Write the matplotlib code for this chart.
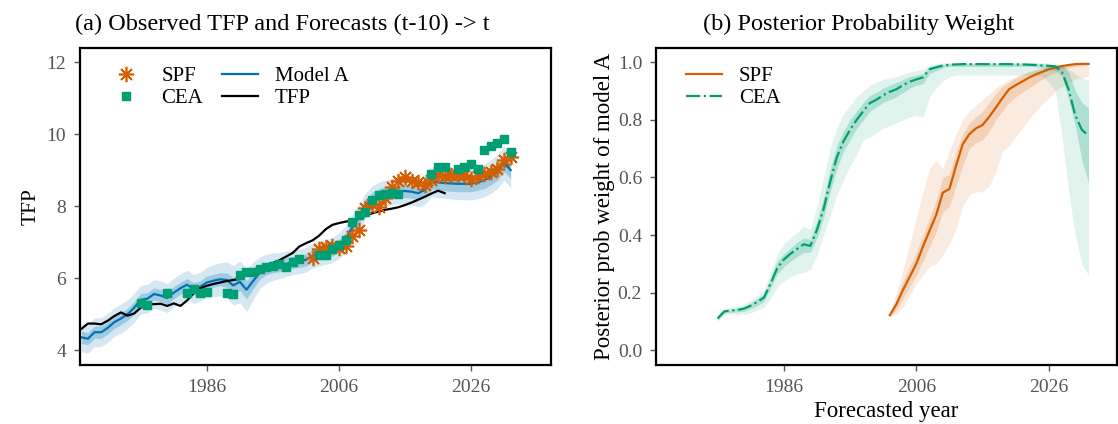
import numpy as np
import matplotlib
matplotlib.use("Agg")
import matplotlib.pyplot as plt

plt.rcParams["font.family"] = ["Liberation Serif", "DejaVu Serif"]
plt.rcParams["font.size"] = 14

# colours (colour-blind palette)
cSPF = "#D55E00"
cCEA = "#009E73"
cMOD = "#0072B2"

# ---- panel (a) data ----
tfpYears = list(range(1967, 2023))
tfp = [4.59, 4.74, 4.74, 4.72, 4.82, 4.95, 5.05, 4.96, 5.02, 5.18,
       5.27, 5.28, 5.29, 5.23, 5.30, 5.23, 5.38, 5.58, 5.72, 5.79,
       5.84, 5.88, 5.92, 5.95, 5.98, 6.14, 6.24, 6.29, 6.33, 6.42,
       6.50, 6.60, 6.70, 6.88, 6.97, 7.05, 7.18, 7.36, 7.48, 7.53,
       7.57, 7.60, 7.66, 7.73, 7.80, 7.85, 7.90, 7.93, 7.97, 8.03,
       8.10, 8.18, 8.26, 8.35, 8.43, 8.36]

modYears = list(range(1967, 2033))
modelA = [4.36, 4.32, 4.50, 4.50, 4.62, 4.78, 4.88, 5.00, 5.18, 5.40,
          5.43, 5.56, 5.52, 5.45, 5.60, 5.72, 5.82, 5.70, 5.76, 5.88,
          5.93, 5.97, 5.95, 5.80, 5.90, 5.68, 5.92, 6.15, 6.26, 6.32,
          6.35, 6.40, 6.44, 6.47, 6.51, 6.62, 6.68, 6.72, 6.78, 6.90,
          7.08, 7.40, 7.68, 8.00, 8.20, 8.30, 8.36, 8.40, 8.42, 8.42,
          8.40, 8.36, 8.45, 8.68, 8.66, 8.64, 8.63, 8.62, 8.62, 8.62,
          8.66, 8.72, 8.82, 8.96, 9.20, 9.00]
# half widths of the two credible bands
modInner = [0.17, 0.17, 0.17, 0.17, 0.17, 0.17, 0.17, 0.17, 0.17, 0.17,
            0.17, 0.17, 0.17, 0.17, 0.17, 0.17, 0.17, 0.17, 0.17, 0.18,
            0.18, 0.18, 0.20, 0.22, 0.24, 0.25, 0.22, 0.18, 0.17, 0.17,
            0.17, 0.17, 0.17, 0.17, 0.17, 0.17, 0.17, 0.17, 0.17, 0.18,
            0.18, 0.18, 0.18, 0.18, 0.18, 0.18, 0.18, 0.18, 0.18, 0.18,
            0.18, 0.18, 0.19, 0.21, 0.21, 0.21, 0.22, 0.22, 0.22, 0.22,
            0.22, 0.23, 0.23, 0.24, 0.24, 0.24]
modOuter = [0.40, 0.40, 0.40, 0.40, 0.40, 0.40, 0.40, 0.40, 0.40, 0.40,
            0.40, 0.40, 0.40, 0.40, 0.40, 0.40, 0.40, 0.40, 0.40, 0.42,
            0.44, 0.46, 0.50, 0.55, 0.58, 0.60, 0.52, 0.44, 0.40, 0.38,
            0.36, 0.35, 0.34, 0.34, 0.34, 0.34, 0.34, 0.34, 0.35, 0.36,
            0.36, 0.36, 0.36, 0.36, 0.36, 0.36, 0.36, 0.36, 0.36, 0.36,
            0.37, 0.38, 0.40, 0.42, 0.42, 0.42, 0.43, 0.44, 0.44, 0.45,
            0.45, 0.46, 0.46, 0.47, 0.48, 0.48]

spfYears = list(range(2002, 2033))
spf = [6.56, 6.82, 6.86, 6.90, 6.85, 6.90, 7.16, 7.34, 7.94, 8.05,
       7.99, 8.22, 8.53, 8.71, 8.80, 8.71, 8.66, 8.60, 8.72, 8.86,
       8.84, 8.86, 8.86, 8.86, 8.74, 8.84, 8.88, 8.94, 9.02, 9.28, 9.37]

ceaYears = [1976, 1977, 1980, 1983, 1984, 1985, 1986, 1989, 1990, 1991,
            1992, 1993, 1994, 1995, 1996, 1997, 1998, 1999, 2000, 2003,
            2004, 2005, 2006, 2007, 2008, 2009, 2010, 2011, 2012, 2013,
            2014, 2015, 2020, 2021, 2022, 2024, 2025, 2026, 2027, 2028,
            2029, 2030, 2031, 2032]
cea = [5.31, 5.26, 5.58, 5.60, 5.69, 5.60, 5.63, 5.60, 5.56, 6.09,
       6.16, 6.18, 6.25, 6.32, 6.33, 6.38, 6.30, 6.46, 6.52, 6.63,
       6.64, 6.82, 6.93, 7.06, 7.55, 7.75, 7.85, 8.18, 8.30, 8.34,
       8.36, 8.33, 8.88, 9.10, 9.10, 9.03, 9.10, 9.16, 9.03, 9.55,
       9.66, 9.75, 9.87, 9.49]

# ---- panel (b) data ----
wCeaYears = list(range(1976, 2033))
wCea = [0.110, 0.135, 0.138, 0.140, 0.145, 0.155, 0.168, 0.183, 0.232, 0.285,
        0.315, 0.335, 0.352, 0.368, 0.362, 0.418, 0.490, 0.585, 0.670, 0.725,
        0.765, 0.800, 0.830, 0.858, 0.870, 0.885, 0.897, 0.906, 0.920, 0.932,
        0.940, 0.947, 0.975, 0.982, 0.988, 0.991, 0.992, 0.993, 0.993, 0.993,
        0.993, 0.993, 0.993, 0.993, 0.993, 0.992, 0.992, 0.991, 0.990, 0.988,
        0.987, 0.985, 0.965, 0.905, 0.815, 0.765, 0.745]
wCeaLo90 = [0.100, 0.125, 0.125, 0.125, 0.125, 0.130, 0.140, 0.150, 0.180, 0.220,
            0.240, 0.255, 0.265, 0.270, 0.280, 0.330, 0.400, 0.470, 0.540, 0.590,
            0.640, 0.680, 0.730, 0.740, 0.755, 0.770, 0.780, 0.790, 0.800, 0.810,
            0.815, 0.810, 0.880, 0.910, 0.935, 0.950, 0.955, 0.955, 0.955, 0.955,
            0.955, 0.955, 0.955, 0.955, 0.955, 0.955, 0.955, 0.955, 0.955, 0.950,
            0.930, 0.900, 0.740, 0.550, 0.400, 0.300, 0.260]
wCeaHi90 = [0.120, 0.145, 0.150, 0.155, 0.160, 0.175, 0.190, 0.210, 0.270, 0.330,
            0.370, 0.390, 0.410, 0.430, 0.420, 0.500, 0.600, 0.700, 0.770, 0.820,
            0.850, 0.880, 0.900, 0.920, 0.930, 0.940, 0.945, 0.950, 0.960, 0.965,
            0.970, 0.975, 0.990, 0.995, 0.997, 0.998, 0.998, 0.998, 0.998, 0.998,
            0.998, 0.998, 0.998, 0.998, 0.998, 0.998, 0.998, 0.998, 0.998, 0.998,
            0.997, 0.995, 0.990, 0.975, 0.960, 0.945, 0.937]
wCeaLo50 = [0.105, 0.130, 0.132, 0.133, 0.135, 0.145, 0.155, 0.170, 0.215, 0.265,
            0.290, 0.310, 0.325, 0.340, 0.340, 0.390, 0.460, 0.550, 0.630, 0.690,
            0.730, 0.770, 0.800, 0.830, 0.845, 0.860, 0.870, 0.880, 0.895, 0.910,
            0.920, 0.925, 0.960, 0.970, 0.980, 0.985, 0.985, 0.985, 0.985, 0.985,
            0.985, 0.985, 0.985, 0.985, 0.985, 0.985, 0.985, 0.985, 0.985, 0.980,
            0.975, 0.970, 0.950, 0.870, 0.780, 0.660, 0.580]
wCeaHi50 = [0.115, 0.140, 0.143, 0.147, 0.150, 0.165, 0.180, 0.195, 0.250, 0.310,
            0.335, 0.355, 0.375, 0.390, 0.385, 0.450, 0.530, 0.630, 0.710, 0.760,
            0.800, 0.830, 0.860, 0.885, 0.895, 0.910, 0.920, 0.930, 0.940, 0.950,
            0.955, 0.960, 0.985, 0.990, 0.993, 0.995, 0.996, 0.996, 0.996, 0.996,
            0.996, 0.996, 0.996, 0.996, 0.996, 0.996, 0.996, 0.996, 0.996, 0.995,
            0.993, 0.990, 0.990, 0.965, 0.900, 0.860, 0.840]

wSpfYears = list(range(2002, 2033))
wSpf = [0.122, 0.160, 0.210, 0.255, 0.300, 0.360, 0.415, 0.470, 0.547, 0.560,
        0.640, 0.715, 0.750, 0.770, 0.782, 0.810, 0.842, 0.875, 0.906, 0.920,
        0.933, 0.946, 0.957, 0.966, 0.975, 0.981, 0.986, 0.990, 0.993, 0.994, 0.994]
wSpfLo90 = [0.115, 0.125, 0.150, 0.190, 0.230, 0.260, 0.290, 0.300, 0.330, 0.370,
            0.420, 0.500, 0.540, 0.550, 0.550, 0.570, 0.620, 0.690, 0.710, 0.740,
            0.770, 0.800, 0.830, 0.855, 0.875, 0.900, 0.915, 0.930, 0.940, 0.947, 0.951]
wSpfHi90 = [0.130, 0.200, 0.280, 0.370, 0.460, 0.550, 0.630, 0.660, 0.630, 0.690,
            0.750, 0.800, 0.830, 0.850, 0.870, 0.890, 0.910, 0.925, 0.940, 0.950,
            0.960, 0.968, 0.975, 0.980, 0.984, 0.987, 0.990, 0.992, 0.993, 0.994, 0.995]
wSpfLo50 = [0.118, 0.140, 0.180, 0.220, 0.260, 0.310, 0.360, 0.410, 0.480, 0.500,
            0.570, 0.640, 0.700, 0.720, 0.730, 0.760, 0.800, 0.830, 0.860, 0.880,
            0.895, 0.910, 0.925, 0.940, 0.955, 0.965, 0.975, 0.980, 0.985, 0.988, 0.990]
wSpfHi50 = [0.126, 0.180, 0.240, 0.290, 0.340, 0.400, 0.460, 0.520, 0.600, 0.610,
            0.690, 0.750, 0.790, 0.810, 0.830, 0.860, 0.890, 0.915, 0.930, 0.945,
            0.955, 0.965, 0.972, 0.978, 0.984, 0.988, 0.991, 0.994, 0.996, 0.997, 0.997]

xticks = [1986, 2006, 2026]


def styleAxis(ax):
    for s in ax.spines.values():
        s.set_linewidth(1.6)
    ax.tick_params(axis="both", direction="out", length=4, width=1,
                   colors="#555555", labelsize=14, pad=6)
    ax.set_xticks(xticks)


fig = plt.figure(figsize=(11.18, 4.24), dpi=100)
W, H = 1118.0, 424.0

# (a) observed TFP and forecasts
ax1 = fig.add_axes([80 / W, 59 / H, 471 / W, 317 / H])
mA = np.array(modelA)
inn = np.array(modInner)
out = np.array(modOuter)
ax1.fill_between(modYears, mA - out, mA + out, color=cMOD, alpha=0.17, lw=0)
ax1.fill_between(modYears, mA - inn, mA + inn, color=cMOD, alpha=0.25, lw=0)
ax1.plot(modYears, modelA, color=cMOD, lw=1.6, label="Model A")
ax1.plot(tfpYears, tfp, color="black", lw=1.6, label="TFP")
ax1.plot(spfYears, spf, ls="none", marker=(8, 2, 0), ms=11, mew=1.2,
         color=cSPF, label="SPF")
ax1.plot(ceaYears, cea, ls="none", marker="s", ms=6, color=cCEA, label="CEA")
ax1.set_xlim(1966.8, 2038.1)
ax1.set_ylim(3.59, 12.39)
ax1.set_yticks([4, 6, 8, 10, 12])
ax1.set_ylabel("TFP", fontsize=15.5)
ax1.set_title("(a) Observed TFP and Forecasts (t-10) -> t", fontsize=17.5,
              pad=13, x=0.43)
styleAxis(ax1)
h, l = ax1.get_legend_handles_labels()
order = [2, 3, 0, 1]
ax1.legend([h[i] for i in order], [l[i] for i in order], loc="upper left",
           ncol=2, frameon=False, fontsize=15, bbox_to_anchor=(0.02, 1.0),
           handlelength=1.75, handletextpad=0.8, columnspacing=0.9,
           labelspacing=0.1)

# (b) posterior probability weight
ax2 = fig.add_axes([656 / W, 59 / H, 461 / W, 317 / H])
ax2.fill_between(wSpfYears, wSpfLo90, wSpfHi90, color=cSPF, alpha=0.12, lw=0)
ax2.fill_between(wSpfYears, wSpfLo50, wSpfHi50, color=cSPF, alpha=0.18, lw=0)
ax2.plot(wSpfYears, wSpf, color=cSPF, lw=1.6, label="SPF")
ax2.fill_between(wCeaYears, wCeaLo90, wCeaHi90, color=cCEA, alpha=0.12, lw=0)
ax2.fill_between(wCeaYears, wCeaLo50, wCeaHi50, color=cCEA, alpha=0.22, lw=0)
ax2.plot(wCeaYears, wCea, color=cCEA, lw=1.6, ls="-.", label="CEA")
ax2.set_xlim(1966.7, 2036.3)
ax2.set_ylim(-0.051, 1.049)
ax2.set_yticks([0.0, 0.2, 0.4, 0.6, 0.8, 1.0])
ax2.set_yticklabels(["0.0", "0.2", "0.4", "0.6", "0.8", "1.0"])
ax2.set_ylabel("Posterior prob weight of model A", fontsize=16.5, labelpad=2)
ax2.set_xlabel("Forecasted year", fontsize=16.5, labelpad=4)
ax2.set_title("(b) Posterior Probability Weight", fontsize=17.5, pad=13, x=0.44)
styleAxis(ax2)
ax2.legend(loc="upper left", frameon=False, fontsize=15,
           bbox_to_anchor=(0.024, 1.0), handlelength=1.75, handletextpad=0.8,
           labelspacing=0.1)

fig.savefig("out.png", dpi=100)
